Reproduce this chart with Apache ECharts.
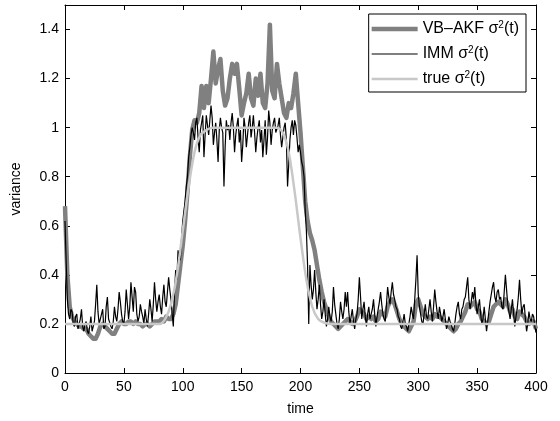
<!DOCTYPE html>
<html><head><meta charset="utf-8">
<script src="https://cdn.jsdelivr.net/npm/echarts@6/dist/echarts.min.js"></script>
<style>html,body{margin:0;padding:0;background:#fff}#c{width:560px;height:421px}</style>
</head><body><div id="c"></div>
<script>
// IMM sigma^2(t), t = 0,1,...,400
const immStep = 1;
const immVar = [
  0.62, 0.45, 0.30, 0.24, 0.22, 0.26, 0.25, 0.20, 0.19, 0.23, 0.24, 0.18, 0.18, 0.22, 0.26, 0.19, 0.17, 0.20, 0.21, 0.17,
  0.16, 0.19, 0.23, 0.17, 0.17, 0.21, 0.28, 0.36, 0.25, 0.20, 0.20, 0.24, 0.26, 0.18, 0.19, 0.27, 0.31, 0.22, 0.22, 0.19,
  0.18, 0.21, 0.27, 0.23, 0.21, 0.26, 0.33, 0.29, 0.24, 0.21, 0.20, 0.25, 0.34, 0.28, 0.22, 0.27, 0.37, 0.31, 0.25, 0.35,
  0.33, 0.24, 0.21, 0.23, 0.28, 0.25, 0.23, 0.20, 0.26, 0.22, 0.19, 0.24, 0.30, 0.26, 0.21, 0.28, 0.37, 0.30, 0.25, 0.29,
  0.32, 0.27, 0.24, 0.31, 0.36, 0.29, 0.27, 0.33, 0.39, 0.34, 0.30, 0.24, 0.19, 0.33, 0.42, 0.38, 0.50, 0.47, 0.46, 0.55,
  0.62, 0.66, 0.70, 0.76, 0.80, 0.88, 0.92, 0.97, 1.00, 0.98, 0.95, 1.02, 1.04, 0.96, 0.90, 0.99, 1.02, 1.05, 0.88, 0.97,
  1.05, 1.01, 0.97, 1.03, 1.09, 1.04, 0.93, 0.98, 1.02, 0.95, 0.86, 0.99, 1.04, 1.00, 0.98, 0.76, 0.92, 1.03, 0.99, 1.01,
  0.95, 1.02, 1.06, 1.00, 0.90, 0.97, 1.01, 1.04, 0.94, 0.99, 0.86, 0.93, 1.04, 1.00, 0.92, 0.97, 1.02, 1.05, 0.96, 1.00,
  1.05, 0.98, 0.90, 0.96, 1.00, 1.03, 0.94, 0.99, 0.88, 0.95, 1.03, 0.89, 0.96, 1.07, 1.02, 0.93, 0.99, 1.02, 1.04, 0.98,
  0.98, 1.01, 1.04, 0.97, 0.92, 0.96, 1.00, 1.02, 0.95, 0.76, 0.85, 0.95, 1.00, 1.03, 0.97, 1.03, 1.01, 0.96, 0.90, 0.93,
  0.90, 0.86, 0.84, 0.80, 0.66, 0.58, 0.44, 0.20, 0.44, 0.36, 0.30, 0.34, 0.42, 0.33, 0.26, 0.30, 0.36, 0.28, 0.22, 0.25,
  0.30, 0.24, 0.19, 0.22, 0.27, 0.23, 0.21, 0.25, 0.35, 0.28, 0.24, 0.20, 0.18, 0.22, 0.29, 0.25, 0.22, 0.26, 0.33, 0.27,
  0.33, 0.25, 0.20, 0.23, 0.26, 0.21, 0.18, 0.22, 0.24, 0.30, 0.39, 0.31, 0.22, 0.26, 0.29, 0.23, 0.19, 0.24, 0.27, 0.22,
  0.22, 0.26, 0.30, 0.24, 0.19, 0.23, 0.26, 0.29, 0.33, 0.28, 0.24, 0.22, 0.21, 0.28, 0.35, 0.31, 0.28, 0.33, 0.37, 0.32,
  0.30, 0.27, 0.26, 0.23, 0.22, 0.19, 0.18, 0.21, 0.24, 0.20, 0.19, 0.17, 0.17, 0.23, 0.27, 0.24, 0.22, 0.30, 0.38, 0.48,
  0.32, 0.27, 0.24, 0.21, 0.20, 0.24, 0.28, 0.23, 0.22, 0.26, 0.30, 0.25, 0.21, 0.27, 0.34, 0.29, 0.25, 0.22, 0.27, 0.24,
  0.21, 0.23, 0.26, 0.22, 0.18, 0.20, 0.23, 0.21, 0.20, 0.18, 0.17, 0.20, 0.24, 0.27, 0.29, 0.24, 0.22, 0.26, 0.27, 0.30,
  0.31, 0.35, 0.39, 0.30, 0.26, 0.29, 0.33, 0.30, 0.35, 0.28, 0.24, 0.27, 0.30, 0.24, 0.20, 0.22, 0.27, 0.22, 0.17, 0.21,
  0.25, 0.29, 0.32, 0.35, 0.37, 0.31, 0.29, 0.33, 0.34, 0.30, 0.31, 0.27, 0.26, 0.33, 0.40, 0.34, 0.28, 0.25, 0.22, 0.26,
  0.30, 0.24, 0.19, 0.23, 0.26, 0.31, 0.38, 0.30, 0.24, 0.27, 0.28, 0.22, 0.17, 0.20, 0.25, 0.22, 0.21, 0.24, 0.23, 0.19,
  0.165
];
// VB-AKF sigma^2(t), t = 0,2,...,400
const vbakfStep = 2;
const vbakfVar = [
  0.68, 0.40, 0.27, 0.23, 0.21, 0.20, 0.19, 0.19, 0.18, 0.18,
  0.16, 0.15, 0.14, 0.14, 0.16, 0.19, 0.20, 0.19, 0.18, 0.17,
  0.16, 0.16, 0.18, 0.20, 0.21, 0.20, 0.20, 0.21, 0.21, 0.20,
  0.21, 0.20, 0.20, 0.19, 0.20, 0.20, 0.19, 0.20, 0.21, 0.21,
  0.21, 0.22, 0.21, 0.23, 0.22, 0.22, 0.24, 0.28, 0.36, 0.44,
  0.52, 0.62, 0.74, 0.88, 0.99, 1.03, 1.02, 1.06, 1.17, 1.08,
  1.17, 1.10, 1.20, 1.31, 1.18, 1.24, 1.28, 1.15, 1.09, 1.12,
  1.20, 1.26, 1.22, 1.26, 1.16, 1.05, 1.10, 1.14, 1.22, 1.12,
  1.09, 1.20, 1.13, 1.22, 1.10, 1.08, 1.18, 1.42, 1.15, 1.12,
  1.26, 1.18, 1.12, 1.06, 1.04, 1.10, 1.08, 1.14, 1.22, 1.10,
  0.98, 0.84, 0.70, 0.62, 0.57, 0.54, 0.50, 0.44, 0.38, 0.33,
  0.29, 0.26, 0.23, 0.21, 0.20, 0.19, 0.18, 0.19, 0.20, 0.21,
  0.22, 0.21, 0.20, 0.21, 0.23, 0.26, 0.25, 0.24, 0.22, 0.23,
  0.22, 0.23, 0.21, 0.22, 0.25, 0.24, 0.23, 0.27, 0.29, 0.30,
  0.28, 0.25, 0.22, 0.20, 0.19, 0.18, 0.17, 0.19, 0.21, 0.28,
  0.30, 0.27, 0.24, 0.23, 0.22, 0.23, 0.22, 0.24, 0.23, 0.23,
  0.22, 0.21, 0.20, 0.19, 0.18, 0.17, 0.18, 0.20, 0.21, 0.23,
  0.25, 0.28, 0.27, 0.28, 0.29, 0.26, 0.25, 0.22, 0.21, 0.20,
  0.21, 0.24, 0.27, 0.28, 0.29, 0.28, 0.27, 0.30, 0.28, 0.25,
  0.26, 0.23, 0.22, 0.25, 0.24, 0.23, 0.21, 0.20, 0.21, 0.21,
  0.18
];
// true sigma^2(t), t = 0,5,...,400
const trueStep = 5;
const trueVar = [
  0.2, 0.2, 0.2, 0.2, 0.2, 0.2, 0.2, 0.2, 0.2, 0.2, 0.2, 0.2, 0.2, 0.2, 0.2, 0.2,
  0.2, 0.22, 0.28, 0.40, 0.58, 0.76, 0.90, 0.97, 0.99,
  1.0, 1.0, 1.0, 1.0, 1.0, 1.0, 1.0, 1.0, 1.0, 1.0, 1.0, 1.0,
  0.98, 0.90, 0.74, 0.55, 0.38, 0.27, 0.22, 0.205,
  0.2, 0.2, 0.2, 0.2, 0.2, 0.2, 0.2, 0.2, 0.2, 0.2, 0.2, 0.2,
  0.2, 0.2, 0.2, 0.2, 0.2, 0.2, 0.2, 0.2, 0.2, 0.2, 0.2, 0.2,
  0.2, 0.2, 0.2, 0.2, 0.2, 0.2, 0.2, 0.2, 0.2, 0.2, 0.2, 0.2
];
const seriesNames = ['VB\u2013AKF \u03c3\u00b2(t)', 'IMM \u03c3\u00b2(t)', 'true \u03c3\u00b2(t)'];
const xAxisName = 'time';
const yAxisName = 'variance';

function pairs(vals, step) { return vals.map((v, i) => [i * step, v]); }

const FONT = 'Liberation Sans, Arial, Helvetica, sans-serif';
const chart = echarts.init(document.getElementById('c'), null, { renderer: 'canvas' });
const tickStyle = { show: true, inside: true, length: 5, lineStyle: { color: '#000', width: 1 } };
const lineStyleAxis = { show: true, onZero: false, lineStyle: { color: '#000', width: 1 } };
const labelStyle = { color: '#000', fontSize: 14, fontFamily: FONT };

const seriesColors = ['#808080', '#000000', '#c8c8c8'];
const seriesWidths = [4.5, 1.2, 2.5];

chart.setOption({
  animation: false,
  backgroundColor: '#fff',
  grid: { left: 65, right: 24, top: 5, bottom: 45, containLabel: false },
  legend: {
    data: seriesNames.map((n, i) => ({ name: n, icon: 'path://M0,0H46V' + seriesWidths[i] + 'H0Z' })),
    orient: 'vertical',
    right: 34, top: 14,
    padding: [6, 7, 5, 3],
    itemWidth: 46, itemHeight: 16, itemGap: 8,
    backgroundColor: '#fff', borderColor: '#000', borderWidth: 1, borderRadius: 0,
    formatter: name => '{n|' + name.replace('\u00b2', '}{s|2}{n|') + '}',
    textStyle: {
      color: '#000', fontSize: 16, fontFamily: FONT,
      rich: {
        n: { fontSize: 16, fontFamily: FONT, color: '#000', lineHeight: 18 },
        s: { fontSize: 10, fontFamily: FONT, color: '#000', lineHeight: 10, verticalAlign: 'top' }
      }
    },
    selectedMode: false
  },
  xAxis: [
    { type: 'value', min: 0, max: 400, interval: 50, position: 'bottom',
      name: xAxisName, nameLocation: 'middle', nameGap: 29,
      nameTextStyle: labelStyle,
      axisLine: lineStyleAxis, axisTick: tickStyle,
      axisLabel: Object.assign({ margin: 7 }, labelStyle), splitLine: { show: false } },
    { type: 'value', min: 0, max: 400, interval: 50, position: 'top',
      axisLine: lineStyleAxis, axisTick: tickStyle, axisLabel: { show: false }, splitLine: { show: false } }
  ],
  yAxis: [
    { type: 'value', min: 0, max: 1.5, interval: 0.2, position: 'left',
      name: yAxisName, nameLocation: 'middle', nameGap: 42, nameRotate: 90,
      nameTextStyle: labelStyle,
      axisLine: lineStyleAxis, axisTick: tickStyle,
      axisLabel: Object.assign({ margin: 6, showMaxLabel: false, formatter: v => (v > 1.45 ? '' : String(+v.toFixed(1))) }, labelStyle),
      splitLine: { show: false } },
    { type: 'value', min: 0, max: 1.5, interval: 0.2, position: 'right',
      axisLine: lineStyleAxis, axisTick: tickStyle, axisLabel: { show: false }, splitLine: { show: false } }
  ],
  series: [
    { name: seriesNames[0], type: 'line', symbol: 'none', data: pairs(vbakfVar, vbakfStep),
      itemStyle: { color: seriesColors[0] }, lineStyle: { color: seriesColors[0], width: seriesWidths[0], join: 'round' }, z: 2 },
    { name: seriesNames[1], type: 'line', symbol: 'none', data: pairs(immVar, immStep),
      itemStyle: { color: seriesColors[1] }, lineStyle: { color: seriesColors[1], width: seriesWidths[1] }, z: 3 },
    { name: seriesNames[2], type: 'line', symbol: 'none', smooth: 0.3, data: pairs(trueVar, trueStep),
      itemStyle: { color: seriesColors[2] }, lineStyle: { color: seriesColors[2], width: seriesWidths[2] }, z: 4 }
  ]
});
</script></body></html>
